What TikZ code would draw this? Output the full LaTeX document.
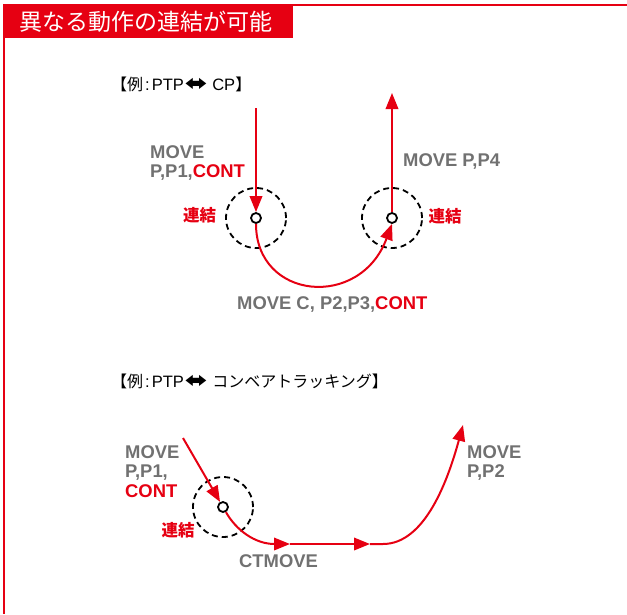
\documentclass[tikz,border=0pt]{standalone}
\usepackage{fontspec}
\setmainfont{Liberation Sans}
\newfontfamily\jp{Noto Sans CJK JP}
\newfontfamily\dv{DejaVu Sans}
\usetikzlibrary{arrows.meta}
\definecolor{cred}{RGB}{230,0,18}
\definecolor{cgray}{RGB}{113,113,113}
\newcommand{\jpx}[1]{{\jp\fontsize{16}{18}\selectfont #1}}
\newcommand{\lrarr}{{\dv\bfseries\fontsize{21}{18}\selectfont\scalebox{1.3}[1]{⬌}}}
\begin{document}
\begin{tikzpicture}[x=1pt,y=-1pt,
 lbl/.style={font=\bfseries\fontsize{18.4}{19}\selectfont, text=cgray, inner sep=0, anchor=base west},
 jlbl/.style={font=\jp\bfseries\fontsize{16.5}{18}\selectfont, text=cred, inner sep=0},
 ex/.style={font=\fontsize{16.5}{18}\selectfont, inner sep=0, anchor=base west},
 rl/.style={draw=cred, line width=2pt},
 arr/.style={rl, -{Triangle[length=16pt,width=12.5pt]}},
 dot/.style={circle, draw=black, line width=1.8pt, fill=white, minimum size=10pt, inner sep=0},
 zone/.style={circle, draw=black, line width=1.8pt, dash pattern=on 6pt off 4pt, minimum size=60pt, inner sep=0},
]
\useasboundingbox (0,0) rectangle (627,614);
% frame and banner
\fill[cred] (3,4) rectangle (293,38);
\draw[cred, line width=2pt] (3,4.5) -- (627,4.5);
\draw[cred, line width=2pt] (3.7,4) -- (3.7,614);
\node[text=white, font=\jp\fontsize{23}{25}\selectfont, inner sep=0] (title) at (146,22) {異なる動作の連結が可能};

% example headings
\node[ex] (ex1) at (111,90) {\jpx{【例}\kern2pt:\kern2pt PTP\kern1pt\lrarr\ CP\jpx{】}};
\node[ex] (ex2) at (111,387) {\jpx{【例}\kern2pt:\kern2pt PTP\kern1pt\lrarr\ \jpx{コンベアトラッキング】}};

% zones
\node[zone] (z1) at (256,218) {};
\node[zone] (z2) at (392,218) {};
\node[zone] (z3) at (223,507) {};
\node[dot] (d1) at (256,218) {};
\node[dot] (d2) at (392,218) {};
\node[dot] (d3) at (223,507) {};

% coordinates
\coordinate (s1) at (256,108);
\coordinate (e2) at (392,93);
\coordinate (s3) at (183,438);
\coordinate (b1) at (290,544);
\coordinate (b2) at (370,544);
\coordinate (b3) at (383,544);
\coordinate (e3) at (463,425);

% arrows top
\draw[arr] (s1) -- (d1);
\draw[arr] (d1.south) .. controls (256,300) and (360,310) .. (d2.south);
\draw[arr] (d2) -- (e2);
% arrows bottom
\draw[arr] (s3) -- (d3);
\draw[arr] (d3.-60) .. controls (236,530) and (255,544) .. (b1);
\draw[arr] (b1) -- (b2);
\draw[arr] (b2) -- (b3) .. controls (425,544) and (448,480) .. (e3);

% labels top
\node[lbl] (m1a) at (150,158) {MOVE};
\node[lbl] (m1b) at (150,177) {P,P1,\textcolor{cred}{CONT}};
\node[jlbl] (k1) at (199.5,215) {連結};
\node[jlbl] (k2) at (445,216) {連結};
\node[lbl] (m4) at (403,166) {MOVE P,P4};
\node[lbl] (mc) at (237,309) {MOVE C, P2,P3,\textcolor{cred}{CONT}};

% labels bottom
\node[lbl] (m5a) at (125,458) {MOVE};
\node[lbl] (m5b) at (125,477) {P,P1,};
\node[lbl, text=cred] (m5c) at (125,497) {CONT};
\node[jlbl] (k3) at (178,530) {連結};
\node[lbl] (ct) at (239,567) {CTMOVE};
\node[lbl] (m6a) at (467,458) {MOVE};
\node[lbl] (m6b) at (467,477) {P,P2};
\end{tikzpicture}
\end{document}
